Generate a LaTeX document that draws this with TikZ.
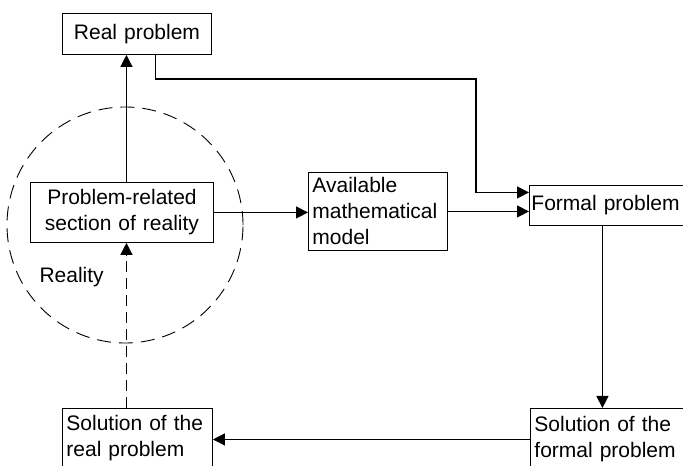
\documentclass[tikz,border=0pt]{standalone}
\usepackage{fontspec}
\setmainfont{Liberation Sans}
\usetikzlibrary{arrows.meta,calc}
\tikzset{
  modeltext/.style={font=\fontsize{21}{26}\selectfont},
  modelbox/.style={draw, line width=.9pt, modeltext, inner xsep=4pt,
    inner ysep=0pt, anchor=north west},
  modelflow/.style={-{Triangle[length=12pt,width=12pt]}, line width=1.2pt},
  dashflow/.style={modelflow, dash pattern=on 11pt off 6pt}
}

\begin{document}
\begin{tikzpicture}[x=1pt,y=1pt]
  \useasboundingbox (0,0) rectangle (683,466);

  % reality circle
  \draw[line width=.9pt, dash pattern=on 14pt off 8pt] (125,241) circle (118);
  \node[modeltext, anchor=west] (reality) at (36,189) {Reality};

  % boxes
  \node[modelbox, minimum width=149pt, minimum height=41pt, text width=141pt,
    align=center] (real) at (62,453) {Real problem};
  \node[modelbox, minimum width=183pt, minimum height=60pt, text width=175pt,
    align=center] (problem) at (30,284) {Problem-related\\section of reality};
  \node[modelbox, minimum width=139pt, minimum height=78pt, text width=131pt,
    align=left] (avail) at (308,294) {Available\\mathematical\\model};
  \node[modelbox, minimum width=170pt, minimum height=40pt, text width=166pt,
    inner xsep=2pt, align=left] (formal) at (529,281) {Formal problem};
  \node[modelbox, minimum width=170pt, minimum height=62pt, text width=162pt,
    align=left] (solformal) at (530,58) {Solution of the\\formal problem};
  \node[modelbox, minimum width=150pt, minimum height=60pt, text width=142pt,
    align=left] (solreal) at (62,58) {Solution of the\\real problem};

  % connectors
  \coordinate (turn) at (476,387);
  \draw[modelflow] ([xshift=4.5pt]problem.north) -- ([xshift=4.5pt]problem.north |- real.south);
  \draw[dashflow] ([xshift=4.5pt]problem.south |- solreal.north) -- ([xshift=4.5pt]problem.south);
  \draw[modelflow] (problem.east) -- (problem.east -| avail.west);
  \draw[modelflow] (avail.east) -- (avail.east -| formal.west);
  \draw[modelflow] ([xshift=18.5pt]real.south) |- (turn) |- ([yshift=13pt]formal.west);
  \draw[modelflow] ([xshift=-12pt]formal.south) -- ([xshift=-12pt]formal.south |- solformal.north);
  \draw[modelflow] (solformal.west) -- (solformal.west -| solreal.east);
\end{tikzpicture}
\end{document}
